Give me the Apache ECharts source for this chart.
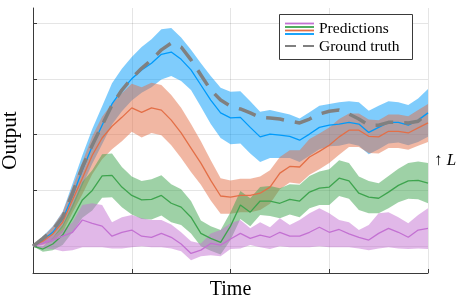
<!DOCTYPE html>
<html>
<head>
<meta charset="utf-8">
<script src="https://cdn.jsdelivr.net/npm/echarts@6/dist/echarts.min.js"></script>
<style>html,body{margin:0;padding:0;background:#fff}#c{width:458px;height:305px}</style>
</head>
<body>
<div id="c"></div>
<script>
var times = [0,0.1,0.2,0.3,0.4,0.5,0.6,0.7,0.8,0.9,1.0,1.1,1.2,1.3,1.4,1.5,1.6,1.7,1.8,1.9,2.0,2.1,2.2,2.3,2.4,2.5,2.6,2.7,2.8,2.9,3.0,3.1,3.2,3.3,3.4,3.5,3.6,3.7,3.8,3.9,4.0];
var xTicks = [0,1,2,3,4];
var yTicks = [0,1,2,3,4];

var blueMean = [0,0.11,0.25,0.48,0.90,1.36,1.79,2.17,2.55,2.80,3.00,3.16,3.28,3.44,3.48,3.35,3.16,2.89,2.62,2.39,2.30,2.31,2.13,1.96,2.01,1.99,1.97,1.90,2.01,2.13,2.17,2.19,2.22,2.19,2.04,2.13,2.22,2.22,2.17,2.26,2.39];
var blueSpread = [0,0.07,0.11,0.14,0.22,0.27,0.31,0.34,0.37,0.38,0.39,0.41,0.43,0.45,0.43,0.39,0.36,0.39,0.43,0.45,0.47,0.47,0.47,0.45,0.43,0.41,0.39,0.39,0.39,0.39,0.38,0.39,0.38,0.39,0.39,0.39,0.38,0.36,0.36,0.39,0.43];

var orangeMean = [0,0.09,0.22,0.43,0.83,1.22,1.63,1.94,2.15,2.31,2.48,2.40,2.48,2.44,2.26,2.03,1.76,1.49,1.18,0.90,0.88,0.91,0.91,0.95,1.06,1.31,1.43,1.42,1.60,1.70,1.81,1.96,2.08,2.08,1.97,1.96,2.06,2.06,2.03,2.12,2.21];
var orangeSpread = [0,0.07,0.13,0.18,0.23,0.29,0.34,0.38,0.41,0.43,0.43,0.45,0.45,0.45,0.45,0.45,0.43,0.39,0.36,0.32,0.30,0.30,0.30,0.30,0.30,0.29,0.29,0.30,0.32,0.32,0.32,0.32,0.30,0.30,0.30,0.30,0.30,0.30,0.30,0.32,0.34];

var greenMean = [0,-0.05,0.04,0.20,0.50,0.83,1.00,1.26,1.27,1.06,0.91,0.83,0.84,0.91,0.77,0.70,0.52,0.23,0.14,0.07,0.36,0.74,0.61,0.81,0.81,0.77,0.84,0.81,0.97,1.04,1.06,1.22,1.17,0.95,0.88,0.86,0.97,1.09,1.17,1.18,1.13];
var greenSpread = [0,0.05,0.11,0.18,0.25,0.32,0.36,0.39,0.39,0.36,0.34,0.34,0.36,0.36,0.34,0.32,0.29,0.23,0.22,0.22,0.25,0.25,0.25,0.25,0.27,0.27,0.27,0.29,0.29,0.30,0.32,0.32,0.32,0.30,0.29,0.27,0.29,0.30,0.32,0.34,0.36];

var purpleMean = [0,0.05,0.11,0.18,0.25,0.47,0.41,0.36,0.18,0.25,0.29,0.18,0.16,0.23,0.16,0.04,-0.13,-0.07,0.05,0.02,0.13,0.23,0.14,0.20,0.16,0.25,0.18,0.18,0.25,0.34,0.25,0.30,0.22,0.16,0.11,0.23,0.32,0.25,0.16,0.29,0.32];
var purpleUpper = [0,0.11,0.18,0.29,0.43,0.74,0.77,0.74,0.43,0.52,0.56,0.50,0.47,0.47,0.39,0.25,0.09,0.05,0.23,0.29,0.41,0.47,0.32,0.43,0.34,0.50,0.38,0.47,0.59,0.68,0.59,0.47,0.43,0.29,0.38,0.59,0.61,0.52,0.41,0.56,0.68];
var purpleLower = [0,-0.04,-0.05,-0.09,-0.07,-0.02,-0.02,-0.02,-0.04,-0.04,-0.02,0,-0.02,-0.02,-0.04,-0.09,-0.25,-0.18,-0.16,-0.18,-0.05,-0.04,0.02,-0.02,-0.05,0,-0.02,-0.02,-0.02,0,-0.02,-0.02,-0.02,-0.04,-0.07,-0.04,-0.02,-0.04,-0.05,-0.04,-0.05];

var groundTruth = [0,0.14,0.29,0.52,0.95,1.42,1.81,2.17,2.53,2.80,3.01,3.19,3.34,3.52,3.64,3.57,3.34,3.07,2.80,2.62,2.51,2.46,2.39,2.31,2.30,2.28,2.24,2.21,2.28,2.37,2.42,2.44,2.37,2.28,2.17,2.17,2.22,2.22,2.21,2.24,2.39];

var legendNames = ['Predictions', 'Ground truth'];

var COL = {blue:'#009AFA', orange:'#E36F47', green:'#3EA44E', purple:'#C371D2', gray:'#808080'};
var FONT = 'Liberation Serif';

function pairs(arr){ return times.map(function(t,i){ return [t, arr[i]]; }); }
function sym(mean, spread, sign){ return mean.map(function(m,i){ return +(m + sign*spread[i]).toFixed(4); }); }

// Band drawn as a polygon through the cartesian scales (api.coord)
function bandSeries(key, lower, upper, color){
  var rows = times.map(function(t,i){ return [t, lower[i], upper[i]]; });
  return {
    type:'custom', name:key+'_band', silent:true, z:1,
    data:[0],
    renderItem:function(params, api){
      var pts = [];
      for (var i=0;i<rows.length;i++) pts.push(api.coord([rows[i][0], rows[i][2]]));
      for (var j=rows.length-1;j>=0;j--) pts.push(api.coord([rows[j][0], rows[j][1]]));
      return {type:'polygon', shape:{points:pts}, style:{fill:color, opacity:0.5}};
    },
    clip:true
  };
}
function meanLine(name, data, color){
  return {type:'line', name:name, data:pairs(data), symbol:'none', silent:true,
          lineStyle:{width:1.3, color:color}, z:3};
}

var series = [
  bandSeries('blue', sym(blueMean,blueSpread,-1), sym(blueMean,blueSpread,1), COL.blue),
  bandSeries('orange', sym(orangeMean,orangeSpread,-1), sym(orangeMean,orangeSpread,1), COL.orange),
  bandSeries('green', sym(greenMean,greenSpread,-1), sym(greenMean,greenSpread,1), COL.green),
  bandSeries('purple', purpleLower, purpleUpper, COL.purple),
  meanLine('blueMean', blueMean, COL.blue),
  meanLine('orangeMean', orangeMean, COL.orange),
  meanLine('greenMean', greenMean, COL.green),
  meanLine('purpleMean', purpleMean, COL.purple),
  {type:'line', name:'Ground truth', data:pairs(groundTruth), symbol:'none', silent:true,
   lineStyle:{width:3.5, color:COL.gray, type:[18,11], cap:'butt'}, z:4}
];

var chart = echarts.init(document.getElementById('c'), null, {renderer:'canvas'});
chart.setOption({
  animation:false,
  backgroundColor:'#ffffff',
  grid:{left:33, right:30, top:8, bottom:32, containLabel:false, outerBoundsMode:'none'},
  xAxis:{type:'value', min:0, max:4, interval:1,
    name:'Time', nameLocation:'middle', nameGap:7,
    nameTextStyle:{fontFamily:FONT, fontSize:20, color:'#000', verticalAlign:'top'},
    axisLine:{onZero:false, lineStyle:{color:'#3a3a3a', width:1}},
    axisTick:{inside:true, length:4, customValues:xTicks, lineStyle:{color:'#3a3a3a'}},
    axisLabel:{show:false},
    splitLine:{show:true, lineStyle:{color:'rgba(0,0,0,0.1)', width:1}}},
  yAxis:{type:'value', min:-0.48, max:4.27,
    name:'Output', nameLocation:'middle', nameGap:12, nameRotate:90,
    nameTextStyle:{fontFamily:FONT, fontSize:21, color:'#000'},
    axisLine:{show:true, onZero:false, lineStyle:{color:'#3a3a3a', width:1}},
    axisTick:{show:true, inside:true, length:4, customValues:yTicks, lineStyle:{color:'#3a3a3a'}},
    axisLabel:{show:false, customValues:yTicks},
    splitLine:{show:true, lineStyle:{color:'rgba(0,0,0,0.1)', width:1}}},
  series:series,
  graphic:[
    {type:'rect', shape:{x:279.5, y:14.5, width:133, height:45}, style:{fill:'#fff', stroke:'#3a3a3a', lineWidth:1}, z:10},
    {type:'line', shape:{x1:285, y1:23.5, x2:314, y2:23.5}, style:{stroke:COL.purple, lineWidth:1.8}, z:11},
    {type:'line', shape:{x1:285, y1:27, x2:314, y2:27}, style:{stroke:COL.green, lineWidth:1.8}, z:11},
    {type:'line', shape:{x1:285, y1:30.5, x2:314, y2:30.5}, style:{stroke:COL.orange, lineWidth:1.8}, z:11},
    {type:'line', shape:{x1:285, y1:34, x2:314, y2:34}, style:{stroke:COL.blue, lineWidth:1.8}, z:11},
    {type:'line', shape:{x1:285, y1:46, x2:314, y2:46}, style:{stroke:COL.gray, lineWidth:2, lineDash:[11,7]}, z:11},
    {type:'text', x:319, y:29, style:{text:legendNames[0], fontFamily:FONT, fontSize:15.5, fill:'#000', verticalAlign:'middle'}, z:11},
    {type:'text', x:319, y:46.5, style:{text:legendNames[1], fontFamily:FONT, fontSize:15.5, fill:'#000', verticalAlign:'middle'}, z:11},
    {type:'text', x:434, y:161, style:{text:'{a|↑ }{b|L}', verticalAlign:'middle', rich:{
      a:{fontFamily:FONT, fontSize:17, fill:'#000'},
      b:{fontFamily:FONT, fontSize:17, fontStyle:'italic', fill:'#000'}}}, z:11}
  ]
});
</script>
</body>
</html>
